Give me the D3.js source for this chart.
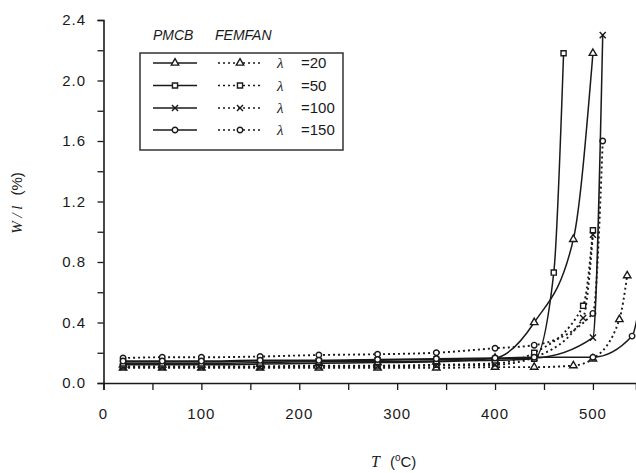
<!DOCTYPE html>
<html>
<head>
<meta charset="utf-8">
<script src="https://d3js.org/d3.v7.min.js"></script>
<style>
    body { margin: 0; background: white; }
    svg { display: block; }
</style>
</head>
<body>
<script>
// temperatures (oC) and W/l (%)
let pmcbT20 = [20, 60, 100, 160, 220, 280, 340, 400, 440, 480, 500];
let pmcbW20 = [0.12, 0.12, 0.12, 0.125, 0.13, 0.135, 0.14, 0.165, 0.40, 0.95, 2.18];
let pmcbT50 = [20, 60, 100, 160, 220, 280, 340, 400, 440, 460, 470];
let pmcbW50 = [0.13, 0.13, 0.13, 0.135, 0.14, 0.14, 0.145, 0.15, 0.16, 0.73, 2.18];
let pmcbT100 = [20, 60, 100, 160, 220, 280, 340, 400, 440, 500, 510];
let pmcbW100 = [0.14, 0.14, 0.14, 0.145, 0.145, 0.15, 0.155, 0.16, 0.165, 0.30, 2.30];
let pmcbT150 = [20, 60, 100, 160, 220, 280, 340, 400, 440, 500, 540, 550];
let pmcbW150 = [0.145, 0.145, 0.145, 0.15, 0.15, 0.155, 0.16, 0.165, 0.17, 0.17, 0.31, 0.62];

let femT20 = [20, 60, 100, 160, 220, 280, 340, 400, 440, 480, 500, 527, 535];
let femW20 = [0.10, 0.10, 0.10, 0.10, 0.10, 0.10, 0.10, 0.105, 0.105, 0.115, 0.16, 0.42, 0.71];
let femT50 = [20, 60, 100, 160, 220, 280, 340, 400, 440, 490, 500];
let femW50 = [0.11, 0.11, 0.11, 0.11, 0.115, 0.115, 0.12, 0.13, 0.20, 0.51, 1.01];
let femT100 = [20, 60, 100, 160, 220, 280, 340, 400, 440, 490, 500];
let femW100 = [0.105, 0.105, 0.105, 0.105, 0.11, 0.11, 0.115, 0.12, 0.17, 0.43, 0.98];
let femT150 = [20, 60, 100, 160, 220, 280, 340, 400, 440, 500, 510];
let femW150 = [0.165, 0.17, 0.17, 0.175, 0.185, 0.19, 0.20, 0.23, 0.25, 0.46, 1.60];

let lambdas = ["20", "50", "100", "150"];
let xTicks = [0, 100, 200, 300, 400, 500];
let yTicks = [0.0, 0.4, 0.8, 1.2, 1.6, 2.0, 2.4];

let symbols = [d3.symbolTriangle, d3.symbolSquare, d3.symbolTimes, d3.symbolCircle];
let symbolSizes = [24, 26, 26, 24];

let pmcb = [[pmcbT20, pmcbW20], [pmcbT50, pmcbW50], [pmcbT100, pmcbW100], [pmcbT150, pmcbW150]];
let femfan = [[femT20, femW20], [femT50, femW50], [femT100, femW100], [femT150, femW150]];

let width = 636, height = 473;
let ink = "#1a1a1a";

let svg = d3.select("body").append("svg")
    .attr("width", width)
    .attr("height", height);

let x = d3.scaleLinear().domain([0, 544]).range([103.5, 636]);
let y = d3.scaleLinear().domain([0, 2.4]).range([383, 20]);

svg.append("clipPath").attr("id", "plot")
    .append("rect")
    .attr("x", 100).attr("y", 0)
    .attr("width", 536).attr("height", 386);

// axes
let xAxis = svg.append("g")
    .attr("transform", "translate(0," + y(0) + ")")
    .call(d3.axisBottom(x).tickValues(d3.range(0, 550, 50)).tickSize(7).tickFormat(""));
let yAxis = svg.append("g")
    .attr("transform", "translate(" + x(0) + ",0)")
    .call(d3.axisLeft(y).tickValues(d3.range(0, 2.41, 0.2)).tickSize(6).tickFormat(""));

[xAxis, yAxis].forEach(function (a) {
    a.select(".domain").attr("stroke", ink).attr("stroke-width", 1.6);
    a.selectAll(".tick line").attr("stroke", ink).attr("stroke-width", 1.3);
});

svg.append("g").selectAll("text")
    .data(xTicks)
    .enter()
    .append("text")
    .attr("x", function (d) { return x(d); })
    .attr("y", 419)
    .attr("text-anchor", "middle")
    .style("font", "15px 'Liberation Sans', Arial, sans-serif")
    .style("letter-spacing", "1px")
    .attr("fill", ink)
    .text(function (d) { return d; });

svg.append("g").selectAll("text")
    .data(yTicks)
    .enter()
    .append("text")
    .attr("x", 86)
    .attr("y", function (d) { return y(d) + 5; })
    .attr("text-anchor", "end")
    .style("font", "15px 'Liberation Sans', Arial, sans-serif")
    .style("letter-spacing", "1px")
    .attr("fill", ink)
    .text(function (d) { return d.toFixed(1); });

// axis titles
let xTitle = svg.append("text")
    .attr("x", 371)
    .attr("y", 467)
    .attr("fill", ink)
    .style("font", "15px 'Liberation Sans', Arial, sans-serif");
xTitle.append("tspan")
    .style("font", "italic 16px 'Liberation Serif', 'Times New Roman', serif")
    .text("T");
xTitle.append("tspan").attr("dx", 10).text("(");
xTitle.append("tspan").attr("dy", -6).style("font-size", "10px").text("o");
xTitle.append("tspan").attr("dy", 6).text("C)");

let yTitle = svg.append("text")
    .attr("transform", "translate(22,203) rotate(-90)")
    .attr("text-anchor", "middle")
    .attr("fill", ink)
    .style("font", "15px 'Liberation Sans', Arial, sans-serif");
yTitle.append("tspan")
    .style("font", "italic 15px 'Liberation Serif', 'Times New Roman', serif")
    .text("W / l");
yTitle.append("tspan").attr("dx", 10).text("(%)");

// curves
let line = d3.line()
    .x(function (d) { return x(d[0]); })
    .y(function (d) { return y(d[1]); })
    .curve(d3.curveMonotoneX);

function toPoints(s) {
    return s[0].map(function (t, i) { return [t, s[1][i]]; });
}

function drawSeries(series, dashed) {
    let g = svg.append("g").attr("clip-path", "url(#plot)");
    series.forEach(function (s, k) {
        let pts = toPoints(s);
        g.append("path")
            .datum(pts)
            .attr("d", line)
            .attr("fill", "none")
            .attr("stroke", ink)
            .attr("stroke-width", dashed ? 1.9 : 1.5)
            .attr("stroke-dasharray", dashed ? "2,3" : null);
        g.selectAll("marks" + k)
            .data(pts.filter(function (d) { return d[0] <= 544; }))
            .enter()
            .append("path")
            .attr("transform", function (d) { return "translate(" + x(d[0]) + "," + y(d[1]) + ")"; })
            .attr("d", d3.symbol().type(symbols[k]).size(symbolSizes[k]))
            .attr("fill", k === 2 ? "none" : "white")
            .attr("stroke", ink)
            .attr("stroke-width", 1.4);
    });
}

drawSeries(femfan, true);
drawSeries(pmcb, false);

// legend
let legend = svg.append("g");
legend.append("rect")
    .attr("x", 140).attr("y", 53)
    .attr("width", 203).attr("height", 97)
    .attr("fill", "white")
    .attr("stroke", "#333")
    .attr("stroke-width", 1.5);

legend.append("text").attr("x", 153).attr("y", 40)
    .style("font", "italic 14px 'Liberation Sans', Arial, sans-serif")
    .attr("fill", ink).text("PMCB");
legend.append("text").attr("x", 215).attr("y", 40)
    .style("font", "italic 14px 'Liberation Sans', Arial, sans-serif")
    .attr("fill", ink).text("FEMFAN");

let rows = [63, 85.5, 108, 130];
lambdas.forEach(function (lam, k) {
    let ry = rows[k];
    legend.append("line")
        .attr("x1", 153).attr("x2", 197).attr("y1", ry).attr("y2", ry)
        .attr("stroke", ink).attr("stroke-width", 1.5);
    legend.append("line")
        .attr("x1", 218).attr("x2", 261).attr("y1", ry).attr("y2", ry)
        .attr("stroke", ink).attr("stroke-width", 1.5)
        .attr("stroke-dasharray", "2,3");
    [175, 240].forEach(function (mx) {
        legend.append("path")
            .attr("transform", "translate(" + mx + "," + ry + ")")
            .attr("d", d3.symbol().type(symbols[k]).size(symbolSizes[k]))
            .attr("fill", k === 2 ? "none" : "white")
            .attr("stroke", ink)
            .attr("stroke-width", 1.4);
    });
    legend.append("text").attr("x", 277).attr("y", ry + 5)
        .style("font", "italic 15px 'Liberation Serif', 'Times New Roman', serif")
        .attr("fill", ink).text("\u03bb");
    legend.append("text").attr("x", 301).attr("y", ry + 5)
        .style("font", "15px 'Liberation Sans', Arial, sans-serif")
        .attr("fill", ink).text("=" + lam);
});
</script>
</body>
</html>
